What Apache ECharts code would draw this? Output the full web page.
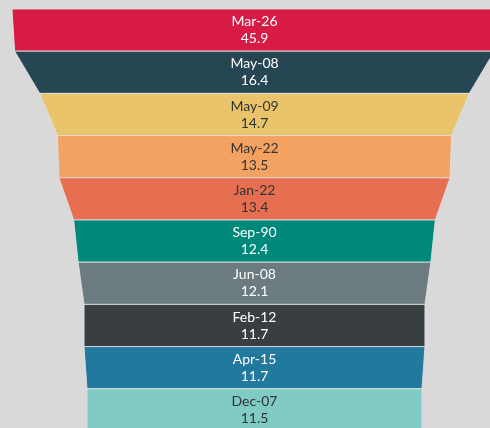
<!DOCTYPE html>
<html>
<head>
<meta charset="utf-8">
<script src="https://cdn.jsdelivr.net/npm/echarts@6/dist/echarts.min.js"></script>
<style>
  html, body { margin: 0; padding: 0; background: #d9d9d9; }
  #chart { width: 490px; height: 428px; }
</style>
</head>
<body>
<div id="chart"></div>
<script>
// Funnel stages, top to bottom
const categories = ['Mar-26', 'May-08', 'May-09', 'May-22', 'Jan-22', 'Sep-90', 'Jun-08', 'Feb-12', 'Apr-15', 'Dec-07'];
const values = [45.9, 16.4, 14.7, 13.5, 13.4, 12.4, 12.1, 11.7, 11.7, 11.5];
const colors = ['#d81b45', '#264653', '#e9c46a', '#f4a261', '#e76f51', '#00897b', '#6b7b80', '#393e41', '#21799e', '#80cbc4'];
const labelColors = ['#ffffff', '#ffffff', '#333333', '#333333', '#333333', '#ffffff', '#ffffff', '#ffffff', '#ffffff', '#333333'];

const chart = echarts.init(document.getElementById('chart'), null, { renderer: 'canvas' });

const data = categories.map((name, i) => ({
  name: name,
  value: values[i],
  itemStyle: { color: colors[i] },
  label: { color: labelColors[i] }
}));

chart.setOption({
  backgroundColor: '#d9d9d9',
  animation: false,
  series: [{
    type: 'funnel',
    left: 12,
    top: 9,
    width: 485,
    height: 422,
    gap: 0,
    sort: 'descending',
    min: 11.5,
    max: 16.58,
    minSize: 335,
    maxSize: 485,
    itemStyle: {
      borderColor: 'rgba(225,225,225,0.85)',
      borderWidth: 1
    },
    label: {
      show: true,
      position: 'inside',
      fontFamily: 'Lato',
      fontSize: 14,
      lineHeight: 17,
      formatter: p => p.name + '\n' + p.value
    },
    labelLine: { show: false },
    emphasis: { disabled: true },
    data: data
  }]
});
</script>
</body>
</html>
